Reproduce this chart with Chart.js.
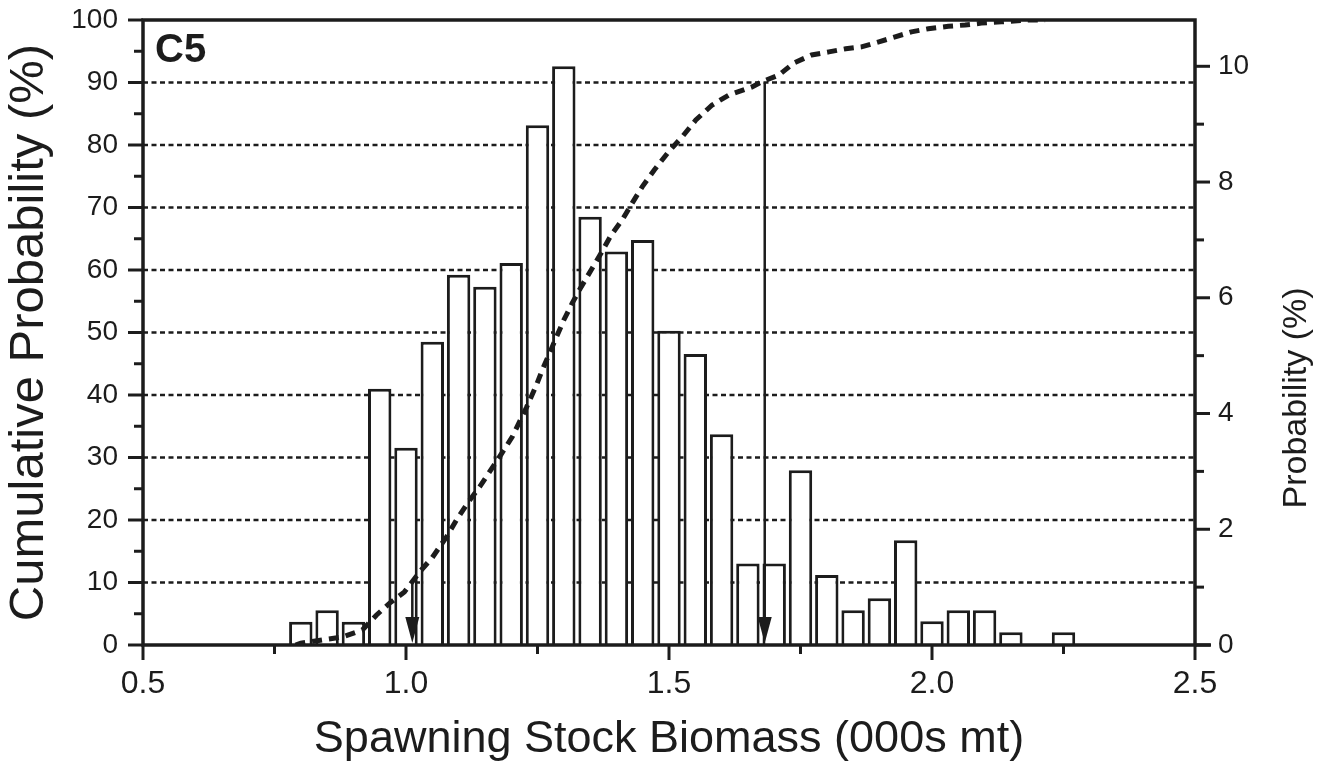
<!DOCTYPE html>
<html>
<head>
<meta charset="utf-8">
<script src="https://cdn.jsdelivr.net/npm/chart.js@4.4.1/dist/chart.umd.min.js"></script>
<style>
  html, body { margin: 0; padding: 0; background: #fff; }
  #wrap { width: 1331px; height: 767px; }
</style>
</head>
<body>
<div id="wrap"><canvas id="chart"></canvas></div>
<script>
// histogram bins (midpoints, 000s mt) and probability per bin (%)
const binMids = [0.80, 0.85, 0.90, 0.95, 1.00, 1.05, 1.10, 1.15, 1.20, 1.25,
                 1.30, 1.35, 1.40, 1.45, 1.50, 1.55, 1.60, 1.65, 1.70, 1.75,
                 1.80, 1.85, 1.90, 1.95, 2.00, 2.05, 2.10, 2.15, 2.25]
const binProb = [0.4, 0.6, 0.4, 4.43, 3.41, 5.24, 6.4, 6.19, 6.6, 8.98,
                 10.0, 7.4, 6.8, 7.0, 5.43, 5.03, 3.64, 1.41, 1.41, 3.02,
                 1.21, 0.6, 0.81, 1.81, 0.41, 0.6, 0.6, 0.22, 0.22]

// cumulative probability curve (%)
const cumX = [0.79, 0.80, 0.88, 0.917, 0.944, 0.969, 0.997, 1.026, 1.05, 1.077,
              1.096, 1.117, 1.14, 1.177, 1.202, 1.229, 1.248, 1.259, 1.278, 1.30,
              1.316, 1.333, 1.352, 1.371, 1.39, 1.411, 1.43, 1.449, 1.472, 1.50,
              1.525, 1.551, 1.582, 1.614, 1.658, 1.676, 1.709, 1.737, 1.771, 1.804,
              1.836, 1.866, 1.899, 1.93, 1.961, 1.993, 2.031, 2.063, 2.094, 2.132,
              2.18, 2.215]
const cumY = [0, 0.3, 1.3, 2.4, 4.8, 6.7, 8.5, 11.7, 14, 17.3,
              20, 22.7, 25.3, 30, 33.3, 38, 41.6, 44, 47.7, 52,
              54.7, 57.3, 60, 62.7, 65.6, 68, 70.7, 73.3, 76, 79,
              81.3, 84, 86.4, 88, 89.3, 90.1, 91.2, 93.1, 94.4, 94.9,
              95.4, 95.7, 96.5, 97.3, 98.1, 98.6, 99.0, 99.2, 99.5, 99.7,
              100, 100]

// 10th and 90th percentile markers
const markerX = [1.012, 1.682]
const markerLevel = [10, 90]

// ticks
const xMajor = [0.5, 1.0, 1.5, 2.0, 2.5]
const xMinor = [0.75, 1.25, 1.75, 2.25]
const leftMajor = [0, 10, 20, 30, 40, 50, 60, 70, 80, 90, 100]
const leftMinor = [5, 15, 25, 35, 45, 55, 65, 75, 85, 95]
const rightMajor = [0, 2, 4, 6, 8, 10]
const rightMinor = [1, 3, 5, 7, 9]
const gridLevels = [10, 20, 30, 40, 50, 60, 70, 80, 90]

const ink = "#1c1c1c"
const fam = "'Liberation Sans', Arial, Helvetica, sans-serif"

function tickSet(major, minor) {
  return [...major, ...minor].sort((a, b) => a - b).map(v => ({ value: v }))
}

function pinY(width) {
  return s => {
    s.width = width
    s.paddingTop = 0
    s.paddingBottom = 0
  }
}

const decor = {
  id: "decor",
  beforeDatasetsDraw(chart) {
    const { ctx, chartArea: a, scales: { y } } = chart
    ctx.save()
    ctx.strokeStyle = ink
    ctx.lineWidth = 2.5
    ctx.setLineDash([5, 3.5])
    gridLevels.forEach(v => {
      const py = y.getPixelForValue(v)
      ctx.beginPath()
      ctx.moveTo(a.left, py)
      ctx.lineTo(a.right, py)
      ctx.stroke()
    })
    ctx.restore()
  },
  afterDatasetsDraw(chart) {
    const { ctx, chartArea: a, scales: { x, y, y1 } } = chart
    ctx.save()
    ctx.strokeStyle = ink
    ctx.fillStyle = ink
    ctx.setLineDash([])

    // frame
    ctx.lineWidth = 3.5
    ctx.strokeRect(a.left, a.top, a.right - a.left, a.bottom - a.top)
    ctx.beginPath()
    ctx.moveTo(a.right, a.bottom)
    ctx.lineTo(a.right + 16, a.bottom)
    ctx.stroke()

    // tick marks
    ctx.lineWidth = 3
    const tick = (x0, y0, x1, y1_) => {
      ctx.beginPath(); ctx.moveTo(x0, y0); ctx.lineTo(x1, y1_); ctx.stroke()
    }
    leftMajor.forEach(v => { const p = y.getPixelForValue(v); tick(a.left - 15, p, a.left, p) })
    leftMinor.forEach(v => { const p = y.getPixelForValue(v); tick(a.left - 9, p, a.left, p) })
    rightMajor.forEach(v => { const p = y1.getPixelForValue(v); tick(a.right, p, a.right + 15, p) })
    rightMinor.forEach(v => { const p = y1.getPixelForValue(v); tick(a.right, p, a.right + 9, p) })
    xMajor.forEach(v => { const p = x.getPixelForValue(v); tick(p, a.bottom, p, a.bottom + 15) })
    xMinor.forEach(v => { const p = x.getPixelForValue(v); tick(p, a.bottom, p, a.bottom + 9) })

    // percentile arrows
    ctx.lineWidth = 2.5
    markerX.forEach((mx, i) => {
      const px = x.getPixelForValue(mx)
      const top = y.getPixelForValue(markerLevel[i])
      tick(px, top, px, a.bottom - 24)
      ctx.beginPath()
      ctx.moveTo(px - 7, a.bottom - 28)
      ctx.lineTo(px + 7, a.bottom - 28)
      ctx.lineTo(px, a.bottom - 2)
      ctx.closePath()
      ctx.fill()
    })

    // panel label
    ctx.font = `bold 40px ${fam}`
    ctx.textAlign = "left"
    ctx.textBaseline = "alphabetic"
    ctx.fillText("C5", a.left + 12, a.top + 42)

    // right axis title (reads bottom to top)
    ctx.font = `34px ${fam}`
    ctx.textAlign = "center"
    ctx.textBaseline = "middle"
    ctx.translate(1297, 398)
    ctx.rotate(-Math.PI / 2)
    ctx.fillText("Probability (%)", 0, 0)
    ctx.restore()
  }
}

const ctx = document.getElementById("chart").getContext("2d")

new Chart(ctx, {
  type: "bar",
  data: {
    datasets: [
      {
        type: "line",
        label: "Cumulative",
        data: cumX.map((v, i) => ({ x: v, y: cumY[i] })),
        yAxisID: "y",
        borderColor: ink,
        borderWidth: 5,
        borderDash: [10, 7],
        pointRadius: 0,
        tension: 0,
        order: 0
      },
      {
        type: "bar",
        label: "Probability",
        data: binMids.map((v, i) => ({ x: v, y: binProb[i] })),
        yAxisID: "y1",
        backgroundColor: "#ffffff",
        borderColor: ink,
        borderWidth: 3,
        barPercentage: 0.89,
        categoryPercentage: 1.0,
        order: 1
      }
    ]
  },
  options: {
    responsive: true,
    maintainAspectRatio: false,
    animation: false,
    devicePixelRatio: 1,
    layout: { padding: { top: 20, left: 0, right: 0, bottom: 0 } },
    plugins: {
      legend: { display: false },
      tooltip: { enabled: false }
    },
    scales: {
      x: {
        type: "linear",
        min: 0.5,
        max: 2.5,
        offset: false,
        afterBuildTicks: s => { s.ticks = tickSet(xMajor, xMinor) },
        afterFit: s => {
          s.height = 122
          s.paddingLeft = 0
          s.paddingRight = 0
        },
        grid: { display: false, drawTicks: false },
        border: { display: false },
        ticks: {
          padding: 20,
          color: ink,
          font: { family: fam, size: 32 },
          maxRotation: 0,
          autoSkip: false,
          callback: v => xMajor.includes(v) ? v.toFixed(1) : ""
        },
        title: {
          display: true,
          text: "Spawning Stock Biomass (000s mt)",
          color: ink,
          font: { family: fam, size: 45 },
          padding: { top: 0, bottom: 0 }
        }
      },
      y: {
        type: "linear",
        position: "left",
        min: 0,
        max: 100,
        afterBuildTicks: s => { s.ticks = tickSet(leftMajor, leftMinor) },
        afterFit: pinY(143),
        grid: { display: false, drawTicks: false },
        border: { display: false },
        ticks: {
          padding: 25,
          color: ink,
          font: { family: fam, size: 28 },
          autoSkip: false,
          callback: v => leftMajor.includes(v) ? String(v) : ""
        },
        title: {
          display: true,
          text: "Cumulative Probability (%)",
          color: ink,
          font: { family: fam, size: 49 },
          padding: { top: 0, bottom: 0 }
        }
      },
      y1: {
        type: "linear",
        position: "right",
        min: 0,
        max: 10.8,
        afterBuildTicks: s => { s.ticks = tickSet(rightMajor, rightMinor) },
        afterFit: pinY(136),
        grid: { display: false, drawTicks: false },
        border: { display: false },
        ticks: {
          padding: 23,
          color: ink,
          font: { family: fam, size: 28 },
          autoSkip: false,
          callback: v => rightMajor.includes(v) ? String(v) : ""
        }
      }
    }
  },
  plugins: [decor]
})
</script>
</body>
</html>
